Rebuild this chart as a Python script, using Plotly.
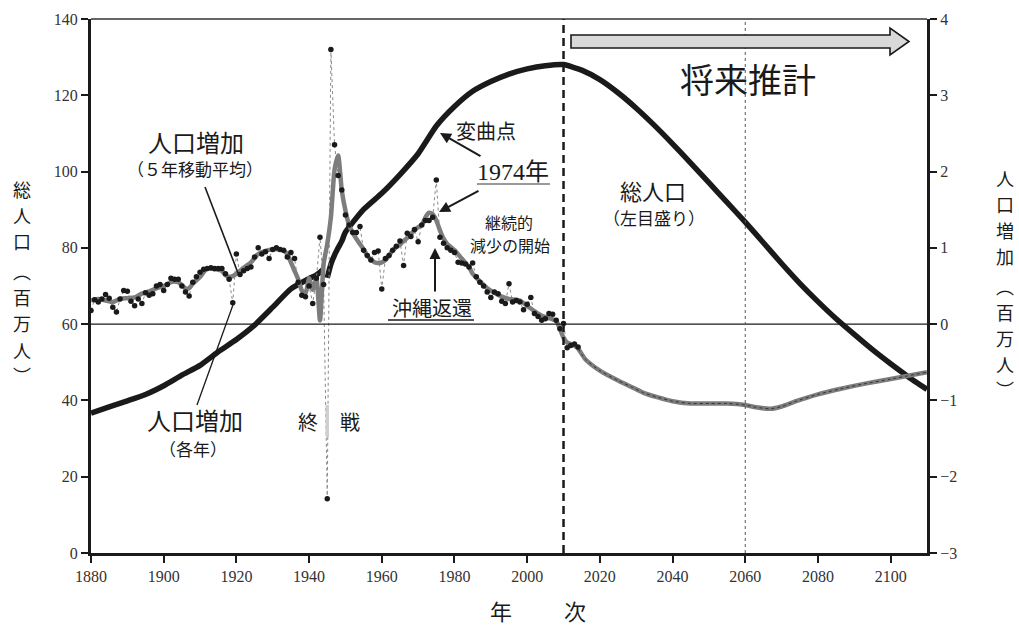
import plotly.graph_objects as go

# ---- data ---------------------------------------------------------------
# total population (millions, left axis); wartime break at 1945
pop_years_a = [1880, 1885, 1890, 1895, 1900, 1905, 1910, 1915, 1920, 1925,
               1930, 1935, 1940, 1942, 1944]
pop_vals_a = [36.65, 38.31, 39.90, 41.56, 43.85, 46.62, 49.18, 52.75, 55.96, 59.74,
              64.45, 69.25, 71.93, 72.88, 74.43]
pop_years_b = [1945, 1946, 1947, 1948, 1949, 1950, 1955, 1960, 1965, 1970,
               1975, 1980, 1985, 1990, 1995, 2000, 2005, 2010, 2015, 2020,
               2025, 2030, 2035, 2040, 2045, 2050, 2055, 2060, 2065, 2070,
               2075, 2080, 2085, 2090, 2095, 2100, 2105, 2110]
pop_vals_b = [72.15, 75.75, 78.10, 80.00, 81.77, 84.12, 90.08, 94.30, 99.21, 104.67,
              111.94, 117.06, 121.05, 123.61, 125.57, 126.93, 127.77, 128.06, 126.60, 124.10,
              120.66, 116.62, 112.12, 107.28, 102.21, 97.08, 91.93, 86.74, 81.35, 75.90,
              70.70, 65.90, 61.40, 57.30, 53.30, 49.60, 46.10, 42.90]

# annual population increase (millions, right axis)
inc_years = list(range(1880, 2015))
inc_vals = [
    0.18, 0.32, 0.29, 0.33, 0.39, 0.34, 0.22, 0.16, 0.33, 0.44,
    0.43, 0.30, 0.24, 0.33, 0.27, 0.41, 0.38, 0.40, 0.50, 0.52,
    0.44, 0.52, 0.60, 0.59, 0.59, 0.50, 0.42, 0.37, 0.55, 0.62,
    0.68, 0.72, 0.73, 0.74, 0.73, 0.73, 0.73, 0.66, 0.59, 0.28,
    0.92, 0.65, 0.70, 0.73, 0.75, 0.88, 1.00, 0.92, 0.95, 0.86,
    0.98, 1.00, 0.98, 0.97, 0.88, 0.94, 0.86, 0.55, 0.38, 0.36,
    0.50, 0.27, 0.60, 1.14, 0.52, -2.29, 3.60, 2.35, 1.95, 1.76,
    1.43, 1.30, 1.20, 1.20, 1.28, 0.97, 0.90, 0.84, 0.94, 0.96,
    0.46, 0.86, 0.90, 0.97, 1.02, 1.09, 0.77, 1.19, 1.15, 1.24,
    1.08, 1.30, 1.36, 1.36, 1.40, 1.89, 1.14, 1.06, 1.00, 0.97,
    0.94, 0.81, 0.80, 0.79, 0.75, 0.80, 0.62, 0.55, 0.50, 0.42,
    0.35, 0.42, 0.40, 0.30, 0.27, 0.53, 0.29, 0.31, 0.29, 0.19,
    0.26, 0.35, 0.14, 0.10, 0.05, 0.07, 0.14, 0.13, 0.05, -0.06,
    0.01, -0.31, -0.28, -0.26, -0.30,
]

# 5-year moving average of the increase (right axis)
ma_years = [1880, 1882, 1884, 1886, 1888, 1890, 1892, 1894, 1896, 1898,
            1900, 1902, 1903, 1904, 1905, 1906, 1907, 1908, 1910, 1912,
            1914, 1916, 1917, 1918, 1919, 1920, 1922, 1924, 1926, 1928,
            1930, 1932, 1933, 1934, 1935, 1936, 1937, 1938, 1939, 1940,
            1941, 1942, 1943, 1944, 1945, 1946, 1947, 1948, 1949, 1950,
            1951, 1952, 1953, 1954, 1955, 1956, 1957, 1958, 1959, 1960,
            1961, 1962, 1963, 1964, 1965, 1966, 1967, 1968, 1969, 1970,
            1971, 1972, 1973, 1974, 1975, 1976, 1977, 1978, 1980, 1982,
            1984, 1985, 1987, 1989, 1991, 1993, 1995, 1998, 2000, 2002,
            2004, 2006, 2008, 2009, 2010, 2011, 2013]
ma_vals = [0.31, 0.33, 0.31, 0.29, 0.33, 0.34, 0.35, 0.40, 0.43, 0.47,
           0.50, 0.55, 0.56, 0.55, 0.51, 0.47, 0.47, 0.53, 0.62, 0.73,
           0.72, 0.70, 0.64, 0.62, 0.63, 0.66, 0.74, 0.81, 0.92, 0.96,
           0.98, 0.98, 0.96, 0.92, 0.81, 0.70, 0.59, 0.44, 0.40, 0.60,
           0.45, 0.60, 0.05, 0.79, 1.05, 1.40, 2.02, 2.21, 1.75, 1.49,
           1.30, 1.20, 1.12, 1.05, 0.98, 0.90, 0.85, 0.81, 0.80, 0.81,
           0.84, 0.90, 0.97, 1.01, 1.04, 1.09, 1.13, 1.18, 1.23, 1.27,
           1.30, 1.40, 1.46, 1.44, 1.36, 1.23, 1.12, 1.05, 0.97, 0.86,
           0.75, 0.66, 0.56, 0.47, 0.41, 0.36, 0.33, 0.31, 0.24, 0.17,
           0.11, 0.08, 0.04, -0.06, -0.18, -0.24, -0.28]

# projected increase (right axis)
proj_years = [2014, 2016, 2020, 2025, 2029, 2032, 2036, 2040, 2045, 2050,
              2055, 2060, 2063, 2067, 2070, 2074, 2080, 2086, 2093, 2100, 2110]
proj_vals = [-0.32, -0.46, -0.61, -0.74, -0.83, -0.90, -0.96, -1.01, -1.04, -1.04,
             -1.04, -1.06, -1.09, -1.11, -1.08, -1.01, -0.92, -0.85, -0.78, -0.72, -0.63]

x_ticks = list(range(1880, 2101, 20))
left_ticks = list(range(0, 141, 20))
right_ticks = list(range(-3, 5))

left_title_chars = ["総", "人", "口", "︵", "百", "万", "人", "︶"]
right_title_chars = ["人", "口", "増", "加", "︵", "百", "万", "人", "︶"]

# ---- helpers: pixel position -> paper fraction ---------------------------
L, R, T, B = 91, 927, 19, 553


def fx(px):
    return (px - L) / (R - L)


def fy(py):
    return (B - py) / (B - T)


INK = "#1a1a1a"
GRAY = "#7d7d7d"
CJK = "Noto Sans CJK JP"
SERIF = "Liberation Serif, Noto Sans CJK JP"

fig = go.Figure()

# thin dotted connector through the yearly points
fig.add_trace(go.Scatter(x=inc_years, y=inc_vals, yaxis="y2", mode="lines",
                         line=dict(color="#8a8a8a", width=1, dash="dot"),
                         hoverinfo="skip"))
# moving average (historical + projection)
fig.add_trace(go.Scatter(x=ma_years + proj_years, y=ma_vals + proj_vals, yaxis="y2",
                         mode="lines",
                         line=dict(color=GRAY, width=4.5, shape="spline", smoothing=0.6)))
fig.add_trace(go.Scatter(x=proj_years, y=proj_vals, yaxis="y2", mode="lines",
                         line=dict(color="#333333", width=1, dash="dot",
                                   shape="spline", smoothing=0.6)))
# yearly points
fig.add_trace(go.Scatter(x=inc_years, y=inc_vals, yaxis="y2", mode="markers",
                         marker=dict(color=INK, size=5.5)))
# total population
for xs, ys in ((pop_years_a, pop_vals_a), (pop_years_b, pop_vals_b)):
    fig.add_trace(go.Scatter(x=xs, y=ys, mode="lines",
                             line=dict(color=INK, width=5.5, shape="spline",
                                       smoothing=0.5)))

axis_common = dict(showgrid=False, zeroline=False, showline=True, linecolor=INK,
                   ticks="outside", ticklen=7, tickwidth=2, tickcolor=INK,
                   tickfont=dict(family=SERIF, size=16, color="#333333"))

fig.update_layout(
    width=1019, height=625,
    margin=dict(l=L, r=1019 - R, t=T, b=625 - B),
    plot_bgcolor="white", paper_bgcolor="white",
    showlegend=False,
    xaxis=dict(range=[1880, 2110], tickvals=x_ticks, linewidth=3, **axis_common),
    yaxis=dict(range=[0, 140], tickvals=left_ticks, linewidth=3, **axis_common),
    yaxis2=dict(range=[-3, 4], tickvals=right_ticks, overlaying="y", side="right",
                linewidth=3, **axis_common),
)

shapes = [
    # top frame
    dict(type="line", xref="paper", yref="paper", x0=0, x1=1, y0=1, y1=1,
         line=dict(color="#333333", width=1.5)),
    # zero line of the increase
    dict(type="line", xref="paper", yref="y2", x0=0, x1=1, y0=0, y1=0,
         line=dict(color=INK, width=1.3)),
    # start of projection
    dict(type="line", xref="x", yref="paper", x0=2010, x1=2010, y0=0, y1=1,
         line=dict(color=INK, width=2.5, dash="8px,5px")),
    dict(type="line", xref="x", yref="paper", x0=2060, x1=2060, y0=0, y1=1,
         line=dict(color="#555555", width=1, dash="dot")),
    # leader lines
    dict(type="line", xref="paper", yref="paper", x0=fx(205), y0=fy(187),
         x1=fx(238), y1=fy(273), line=dict(color=INK, width=1.6)),
    dict(type="line", xref="paper", yref="paper", x0=fx(197), y0=fy(405),
         x1=fx(234), y1=fy(302), line=dict(color=INK, width=1.3)),
    # underlines
    dict(type="line", xref="paper", yref="paper", x0=fx(477), y0=fy(184),
         x1=fx(550), y1=fy(184), line=dict(color="#9a9a9a", width=2.2)),
    dict(type="line", xref="paper", yref="paper", x0=fx(388), y0=fy(320),
         x1=fx(474), y1=fy(320), line=dict(color=INK, width=1.6)),
    # light band between the two war-end characters
    dict(type="rect", xref="paper", yref="paper", x0=fx(325.5), x1=fx(329),
         y0=fy(437), y1=fy(405), fillcolor="#cfcfcf", line=dict(width=0)),
]

# block arrow for the projection period
arrow_pts = [(571, 35), (890, 35), (890, 28), (909, 41.5), (890, 55), (890, 48), (571, 48)]
path = "M " + " L ".join(f"{fx(a):.5f},{fy(b):.5f}" for a, b in arrow_pts) + " Z"
shapes.append(dict(type="path", xref="paper", yref="paper", path=path,
                   fillcolor="#d9d9d9", line=dict(color=INK, width=1.6)))
fig.update_layout(shapes=shapes)


def label(text, px, py, size, family=CJK, color=INK):
    fig.add_annotation(x=fx(px), y=fy(py), xref="paper", yref="paper", text=text,
                       showarrow=False, xanchor="center", yanchor="middle",
                       font=dict(family=family, size=size, color=color))


def arrow(tip, tail):
    fig.add_annotation(x=fx(tip[0]), y=fy(tip[1]), xref="paper", yref="paper",
                       ax=tail[0] - tip[0], ay=tail[1] - tip[1], text="",
                       showarrow=True, arrowhead=2, arrowsize=1.1, arrowwidth=2,
                       arrowcolor=INK, standoff=0)


label("将来推計", 748, 78, 34)
label("総人口", 653, 190, 22)
label("（左目盛り）", 654, 217, 17)
label("人口増加", 196, 141, 24)
label("（５年移動平均）", 195, 168, 17)
label("人口増加", 195, 419, 24)
label("（各年）", 193, 448, 17)
label("終", 308, 421, 20)
label("戦", 350, 421, 20)
label("変曲点", 486, 131, 20)
label("1974年", 513, 172, 24, family=SERIF)
label("継続的", 509, 222, 16)
label("減少の開始", 510, 245, 16)
label("沖縄返還", 432, 307, 20)
label("年", 501, 610, 22)
label("次", 575, 610, 22)

arrow((440, 133), (482, 157))
arrow((439, 212), (480, 190))
arrow((435, 248), (435, 293))

# vertical axis titles, one character per cell
left_rows = [189, 215, 241, 271, 297, 323, 350, 375]
for ch, row in zip(left_title_chars, left_rows):
    label(ch, 22, row, 18)
right_rows = [178, 204, 230, 256, 286, 312, 338, 364, 389]
for ch, row in zip(right_title_chars, right_rows):
    label(ch, 1005, row, 18)

fig.write_html("out.html")
